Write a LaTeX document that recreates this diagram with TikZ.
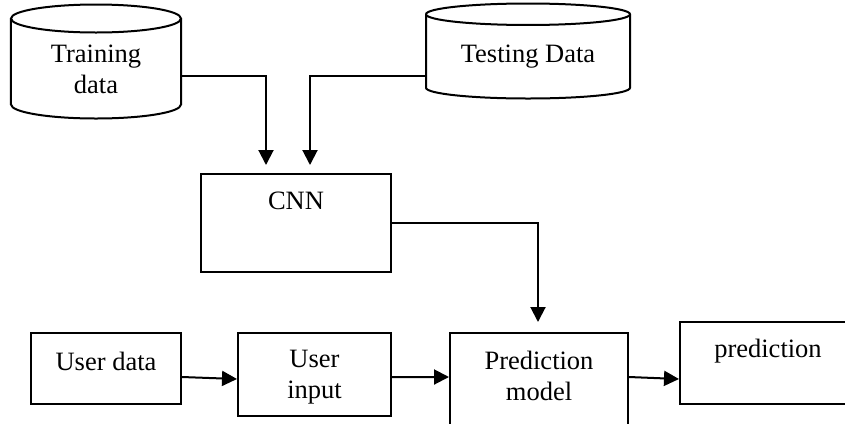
\documentclass[tikz,border=0pt]{standalone}
\usepackage{fontspec}
\setmainfont{Liberation Serif}
\usetikzlibrary{shapes.geometric,arrows.meta}

\tikzset{
  box/.style={draw, line width=2bp, inner sep=0pt},
  store/.style={draw, line width=2bp, cylinder, shape border rotate=90,
    align=center, inner sep=0pt, anchor=shape center},
  arr/.style={line width=2bp, -{Triangle[length=15bp,width=15bp]}}
}

\begin{document}
\begin{tikzpicture}[x=1bp, y=-1bp,
    font=\fontsize{26.5bp}{31bp}\selectfont]
  \useasboundingbox (0,0) rectangle (845,423);

  % data stores
  \node[store, aspect=0.31, minimum width=170bp, minimum height=114bp]
    (train) at (96,61.5) {Training\\data};
  \node[store, aspect=0.16, minimum width=204bp, minimum height=95bp]
    (test) at (528,51) {Testing Data};

  % model
  \node[box, minimum width=190bp, minimum height=98bp,
    label={[yshift=22bp]center:CNN}] (cnn) at (296,223) {};

  % bottom row
  \node[box, minimum width=150bp, minimum height=71bp,
    label={[yshift=7.5bp]center:User data}] (udata) at (106,368.5) {};
  \node[box, minimum width=153bp, minimum height=83bp,
    label={[yshift=-3bp, align=center]center:User\\input}]
    (uinput) at (314.5,374.5) {};
  \node[box, minimum width=178bp, minimum height=93bp,
    label={[yshift=3.5bp, align=center]center:Prediction\\model}]
    (pred) at (539,379.5) {};
  \node[box, minimum width=176bp, minimum height=82bp,
    label={[yshift=12bp]center:prediction}] (result) at (768,363) {};

  \draw[arr, shorten >=8bp] ([yshift=-14.5bp]train.shape center -| train.east)
    -| ([xshift=-30bp]cnn.north);
  \draw[arr, shorten >=8bp] ([yshift=-25bp]test.shape center -| test.west)
    -| ([xshift=14bp]cnn.north);
  \draw[arr, shorten >=10bp] (cnn.east) -| ([xshift=-1bp]pred.north);
  \draw[arr] ([yshift=-8.5bp]udata.east) -- ([yshift=-4.5bp]uinput.west);
  \draw[arr] ([yshift=-2.5bp]uinput.east) -- ([yshift=2.5bp]pred.west);
  \draw[arr] ([yshift=2.5bp]pred.east) -- ([yshift=-16bp]result.west);
\end{tikzpicture}
\end{document}
